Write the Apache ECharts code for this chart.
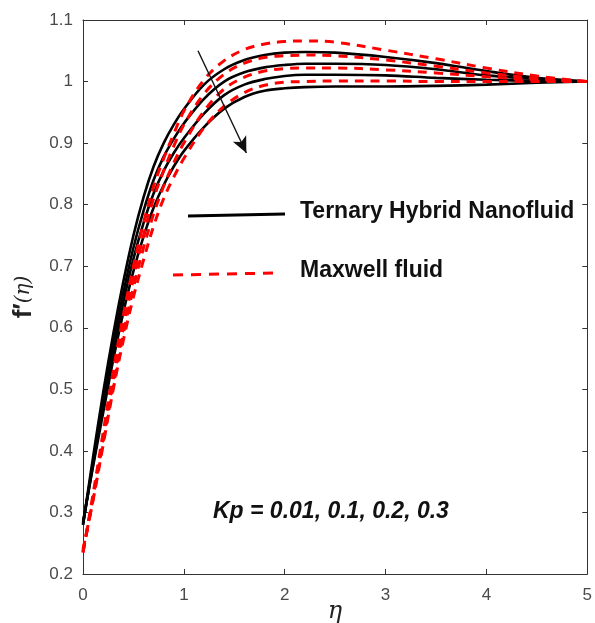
<!DOCTYPE html>
<html>
<head>
<meta charset="utf-8">
<script src="https://cdn.jsdelivr.net/npm/echarts@6/dist/echarts.min.js"></script>
<style>
html,body{margin:0;padding:0;background:#fff;}
#chart{width:595px;height:623px;}
</style>
</head>
<body>
<div id="chart"></div>
<script>
var eta=[0,0.1,0.2,0.3,0.4,0.5,0.6,0.7,0.8,0.9,1.0,1.2,1.4,1.6,1.8,2.0,2.2,2.5,3.0,3.5,4.0,4.5,5.0];

// Ternary Hybrid Nanofluid, Kp = 0.01, 0.1, 0.2, 0.3
var thnf1=[0.280,0.390,0.495,0.590,0.675,0.750,0.812,0.862,0.900,0.930,0.955,0.995,1.020,1.035,1.043,1.047,1.048,1.047,1.040,1.030,1.017,1.006,1.000];
var thnf2=[0.280,0.382,0.482,0.574,0.657,0.730,0.790,0.840,0.878,0.907,0.932,0.972,1.000,1.015,1.023,1.027,1.029,1.029,1.027,1.020,1.010,1.004,1.000];
var thnf3=[0.282,0.378,0.472,0.562,0.642,0.712,0.770,0.818,0.855,0.884,0.908,0.948,0.978,0.995,1.004,1.009,1.011,1.011,1.010,1.006,1.003,1.001,1.000];
var thnf4=[0.285,0.375,0.462,0.548,0.625,0.692,0.748,0.795,0.832,0.862,0.887,0.926,0.956,0.975,0.985,0.989,0.991,0.992,0.992,0.993,0.995,0.998,1.000];

// Maxwell fluid, Kp = 0.01, 0.1, 0.2, 0.3
var mf1=[0.235,0.330,0.430,0.530,0.620,0.700,0.770,0.830,0.875,0.915,0.952,1.003,1.034,1.052,1.061,1.065,1.066,1.064,1.051,1.037,1.022,1.009,1.000];
var mf2=[0.235,0.325,0.420,0.515,0.600,0.680,0.750,0.810,0.855,0.895,0.930,0.980,1.012,1.030,1.039,1.042,1.043,1.042,1.035,1.025,1.014,1.005,1.000];
var mf3=[0.237,0.322,0.415,0.505,0.590,0.665,0.730,0.785,0.830,0.868,0.900,0.952,0.988,1.007,1.017,1.021,1.022,1.022,1.019,1.014,1.008,1.003,1.000];
var mf4=[0.240,0.320,0.410,0.500,0.580,0.650,0.710,0.765,0.810,0.845,0.875,0.925,0.960,0.982,0.994,0.999,1.000,1.001,1.001,1.000,1.000,1.000,1.000];

var xTicks=[0,1,2,3,4,5];
var yTicks=[0.2,0.3,0.4,0.5,0.6,0.7,0.8,0.9,1,1.1];

var chart=echarts.init(document.getElementById("chart"));

function pairs(ys){
    var out=[];
    for(let i=0;i<eta.length;i++){
        out.push([eta[i],ys[i]]);
    }
    return out;
}

var axisColor='#333333';
var labelColor='#4a4a4a';
var font='Liberation Sans';

function xAxisDef(pos,showLabel){
    return {
        type:'value',
        position:pos,
        min:xTicks[0],
        max:xTicks[xTicks.length-1],
        interval:1,
        axisLine:{show:true,onZero:false,lineStyle:{color:axisColor,width:1}},
        axisTick:{show:true,inside:true,length:5,lineStyle:{color:axisColor}},
        axisLabel:{show:showLabel,color:labelColor,fontSize:17,fontFamily:font,margin:13},
        splitLine:{show:false}
    };
}
function yAxisDef(pos,showLabel){
    return {
        type:'value',
        position:pos,
        min:yTicks[0],
        max:yTicks[yTicks.length-1],
        interval:0.1,
        axisLine:{show:true,onZero:false,lineStyle:{color:axisColor,width:1}},
        axisTick:{show:true,inside:true,length:5,lineStyle:{color:axisColor}},
        axisLabel:{show:showLabel,color:labelColor,fontSize:17,fontFamily:font,margin:10,
            formatter:function(v){return String(parseFloat(v.toFixed(1)));}},
        splitLine:{show:false}
    };
}

function blackLine(name,ys){
    return {
        name:name,type:'line',data:pairs(ys),smooth:0.35,
        showSymbol:false,symbol:'none',xAxisIndex:0,yAxisIndex:0,
        lineStyle:{color:'#000',width:2.6,type:'solid'},z:2
    };
}
function redLine(name,ys){
    return {
        name:name,type:'line',data:pairs(ys),smooth:0.35,
        showSymbol:false,symbol:'none',xAxisIndex:0,yAxisIndex:0,
        lineStyle:{color:'#ff0000',width:3,type:[9,7]},z:3
    };
}

var series=[
    blackLine('THNF Kp=0.01',thnf1),
    blackLine('THNF Kp=0.1',thnf2),
    blackLine('THNF Kp=0.2',thnf3),
    blackLine('THNF Kp=0.3',thnf4),
    redLine('MF Kp=0.01',mf1),
    redLine('MF Kp=0.1',mf2),
    redLine('MF Kp=0.2',mf3),
    redLine('MF Kp=0.3',mf4)
];
// arrow showing increasing Kp
series[0].markLine={
    silent:true,
    symbol:['none','arrow'],
    symbolSize:[11,16],
    label:{show:false},
    lineStyle:{color:'#111',width:1.4,type:'solid'},
    data:[[{coord:[1.14,1.05]},{coord:[1.62,0.884]}]]
};

var option={
    animation:false,
    backgroundColor:'#fff',
    grid:{left:83,right:7,top:20,bottom:49,containLabel:false},
    xAxis:[xAxisDef('bottom',true),xAxisDef('top',false)],
    yAxis:[yAxisDef('left',true),yAxisDef('right',false)],
    series:series,
    graphic:[
        {type:'line',shape:{x1:188,y1:216,x2:285,y2:214},style:{stroke:'#000',lineWidth:3}},
        {type:'text',left:300,top:200,style:{text:'Ternary Hybrid Nanofluid',fill:'#111',
            font:'bold 23px "Liberation Sans"'}},
        {type:'line',shape:{x1:173,y1:275,x2:277,y2:273},style:{stroke:'#ff0000',lineWidth:3,lineDash:[10,8]}},
        {type:'text',left:300,top:259,style:{text:'Maxwell fluid',fill:'#111',
            font:'bold 23px "Liberation Sans"'}},
        {type:'text',left:213,top:500,style:{text:'Kp = 0.01, 0.1, 0.2, 0.3',fill:'#111',
            font:'italic bold 23px "Liberation Sans"'}},
        {type:'text',x:335,y:600,style:{text:'η',fill:'#222',align:'center',verticalAlign:'top',
            font:'italic 24px "DejaVu Serif"'}},
        {type:'text',x:24,y:297,rotation:Math.PI/2,
            style:{text:'{b|f′}{i|(η)}',align:'center',verticalAlign:'middle',fill:'#222',
                rich:{b:{font:'bold 26px "Liberation Sans"',fill:'#222'},
                      i:{font:'italic 20px "DejaVu Serif"',fill:'#222'}}}}
    ]
};
chart.setOption(option);
</script>
</body>
</html>
